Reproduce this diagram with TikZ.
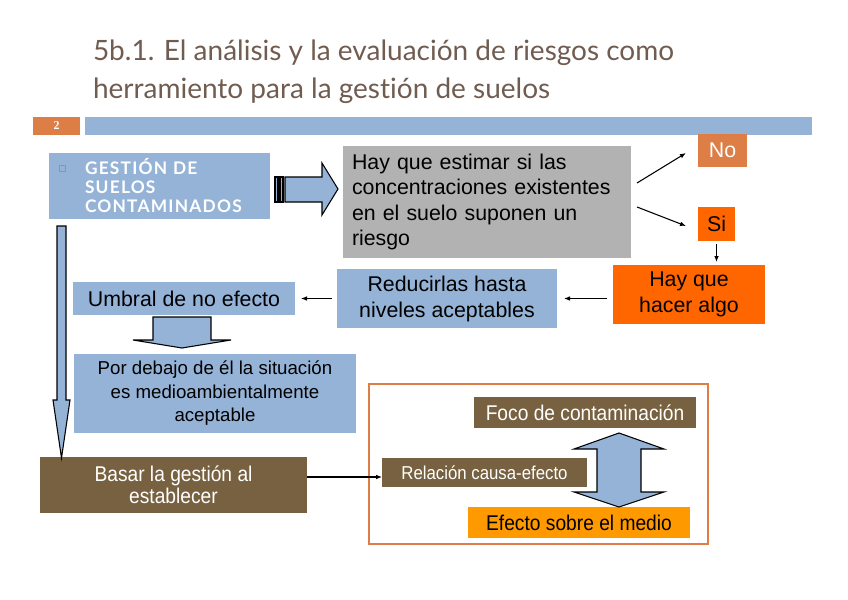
\documentclass[tikz,border=0pt]{standalone}
\usepackage{fontspec}
\setmainfont{Liberation Sans}
\newfontfamily\titlefont[Ligatures=NoCommon]{Lato}
\newfontfamily\headfont[LetterSpace=7]{Lato}
\newfontfamily\narrowfont[FakeStretch=0.9]{Liberation Sans}
\newfontfamily\numfont{Liberation Serif}
\usetikzlibrary{calc,arrows.meta}
\definecolor{skyblue}{HTML}{95B3D7}
\definecolor{rustorange}{HTML}{DD7E47}
\definecolor{vividorange}{HTML}{FF6600}
\definecolor{amber}{HTML}{FF9900}
\definecolor{greybox}{HTML}{B2B2B2}
\definecolor{mudbrown}{HTML}{776140}
\definecolor{titlegrey}{HTML}{705C50}

\begin{document}
\begin{tikzpicture}[
  x=0.75pt, y=-0.75pt,
  every node/.style={inner sep=0pt, outer sep=0pt},
  block/.style={rectangle, align=center, font=\fontsize{16}{19.5}\selectfont},
  brownblock/.style={rectangle, fill=mudbrown, text=white, align=center},
  titleline/.style={anchor=base west, text=titlegrey, font=\titlefont\fontsize{21}{24}\selectfont},
  conn/.style={-{Latex[length=4.5pt,width=3.5pt]}, line width=0.8pt},
  fat/.style={fill=skyblue, draw=black, line width=0.8pt},
]
\useasboundingbox (0,0) rectangle (848,599);

% Row 0: Title and bar
\node[titleline] (title) at (93,61) {5b.1. El análisis y la evaluación de riesgos como};
\node[titleline] (titlecont) at (93,99) {herramiento para la gestión de suelos};
\node[fill=rustorange, minimum width=35.25pt, minimum height=13.5pt, text=white, font=\numfont\bfseries\fontsize{9}{10}\selectfont] (num) at (56.5,126) {2};
\fill[skyblue] (85,117) rectangle (812,135);

% Row 1: Gestion and estimation
\node[fill=skyblue, minimum width=165.75pt, minimum height=49.5pt, text width=111.75pt, align=left, text=white, font=\headfont\bfseries\fontsize{13}{14.25}\selectfont] (gestion) at (159.5,186) {GESTIÓN DE\\SUELOS\\CONTAMINADOS};
\node[draw=rustorange, line width=0.6pt, minimum size=4.5pt] (bullet) at (62,168) {};
\node[block, fill=greybox, minimum width=216pt, minimum height=84pt, text width=202.5pt, align=left, font=\fontsize{16}{18.8}\selectfont] (estimar) at (487,202) {Hay que estimar si las\\concentraciones existentes\\en el suelo suponen un\\riesgo};
\node[block, fill=rustorange, text=white, minimum width=36.75pt, minimum height=24.75pt] (no) at (722.5,150.5) {No};
\node[block, fill=vividorange, minimum width=27.75pt, minimum height=25.5pt] (si) at (716.5,224) {Si};

% Row 2: Decision chain
\node[block, fill=vividorange, minimum width=114pt, minimum height=44.25pt] (hacer) at (689,294.5) {Hay que\\hacer algo};
\node[block, fill=skyblue, minimum width=165pt, minimum height=44.25pt] (reducir) at (447,298.5) {Reducirlas hasta\\niveles aceptables};
\node[block, fill=skyblue, minimum width=166.5pt, minimum height=24.75pt] (umbral) at (184,298.5) {Umbral de no efecto};
\node[block, fill=skyblue, minimum width=211.5pt, minimum height=59.25pt, font=\fontsize{14}{17.6}\selectfont] (debajo) at (215,393.5) {Por debajo de él la situación\\es medioambientalmente\\aceptable};

% Row 3: Cause and effect
\node[brownblock, minimum width=200.25pt, minimum height=42pt, font=\narrowfont\fontsize{16}{16.5}\selectfont] (basar) at (173.5,485) {Basar la gestión al\\establecer};
\draw[rustorange, line width=1.5pt] (369,384) rectangle (708,544);
\node[brownblock, minimum width=153.75pt, minimum height=21.75pt, font=\narrowfont\fontsize{14}{16}\selectfont] (relacion) at (484.5,472.5) {Relación causa-efecto};
\node[brownblock, minimum width=166.5pt, minimum height=23.25pt, font=\narrowfont\fontsize{16}{18}\selectfont] (foco) at (585,412.5) {Foco de contaminación};
\node[block, fill=amber, minimum width=166.5pt, minimum height=23.25pt, font=\narrowfont\fontsize{16}{18}\selectfont] (efecto) at (579,522.5) {Efecto sobre el medio};

% Block arrows
\draw[fat] (275,177) rectangle (278,202);
\draw[fat] (280,177) rectangle (283,202);
\draw[fat] (285,177) -- (322,177) -- (322,163) -- (338,189) -- (322,215) -- (322,202) -- (285,202) -- cycle;
\draw[fat] (153,317) -- (211,317) -- (211,340) -- (231,340) -- (182,348) -- (133,340) -- (153,340) -- cycle;
\draw[fat] (57,226) -- (66,226) -- (66,400) -- (70,400) -- (61.5,458) -- (53,400) -- (57,400) -- cycle;
\draw[fat] (619,433) -- (664,449) -- (641,449) -- (641,492) -- (664,492) -- (619,507) -- (574,492) -- (597,492) -- (597,449) -- (574,449) -- cycle;

% Arrows
\draw[conn] ($(estimar.east)+(6,-19)$) -- ($(no.west)+(-12,2.5)$);
\draw[conn] ($(estimar.east)+(6,5)$) -- ($(si.west)+(-12,2)$);
\draw[conn, shorten <=2.25pt, shorten >=2.25pt] (si.south) -- (si.south |- hacer.north);
\draw[conn, shorten <=4.5pt, shorten >=5.25pt] (hacer.west |- reducir.east) -- (reducir.east);
\draw[conn, shorten <=3.75pt, shorten >=4.5pt] (reducir.west) -- (reducir.west -| umbral.east);
\draw[conn] ([yshift=6pt]basar.east) -- ([yshift=6pt]basar.east -| relacion.west);

\end{tikzpicture}
\end{document}
